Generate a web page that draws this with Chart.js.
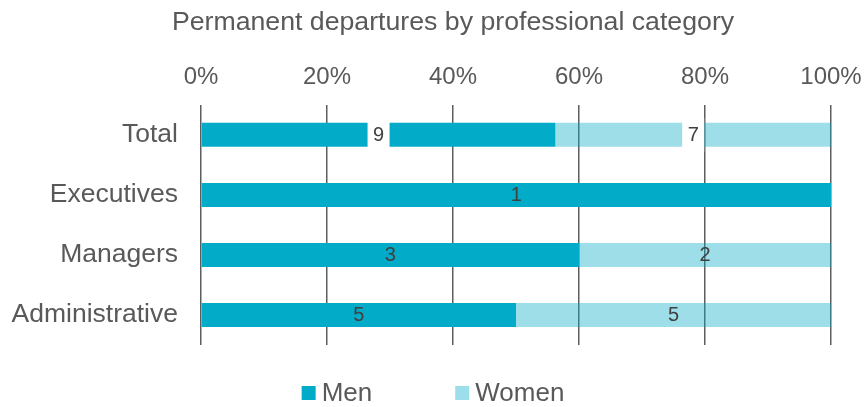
<!DOCTYPE html>
<html>
<head>
<meta charset="utf-8">
<script src="https://cdn.jsdelivr.net/npm/chart.js@4"></script>
<style>
  html, body { margin: 0; padding: 0; background: #ffffff; }
  #wrap { width: 866px; height: 407px; position: relative; }
</style>
</head>
<body>
<div id="wrap"><canvas id="departuresChart"></canvas></div>
<script>
const categories = ["Total", "Executives", "Managers", "Administrative"];
const men = [9, 1, 3, 5];
const women = [7, 0, 2, 5];
const tickLabels = ["0%", "20%", "40%", "60%", "80%", "100%"];

const textColor = "#595959";
const fontFamily = "'Liberation Sans', Arial, sans-serif";

// share of each row, so both segments add up to 100
const share = (part, i) => 100 * part[i] / (men[i] + women[i]);
const menShare = men.map((v, i) => share(men, i));
const womenShare = women.map((v, i) => share(women, i));

// count labels in the middle of each segment; the Total row gets a white box
const segmentLabels = {
    id: "segmentLabels",
    afterDatasetsDraw(chart) {
        const ctx = chart.ctx;
        ctx.save();
        ctx.font = "20px " + fontFamily;
        ctx.textAlign = "center";
        ctx.textBaseline = "middle";
        chart.data.datasets.forEach((ds, di) => {
            const meta = chart.getDatasetMeta(di);
            meta.data.forEach((bar, i) => {
                const count = ds.counts[i];
                if (!count) return;
                const x = (bar.x + bar.base) / 2;
                const y = bar.y;
                if (i === 0) {
                    ctx.fillStyle = "#ffffff";
                    ctx.fillRect(x - 11, y - 17, 22, 34);
                }
                ctx.fillStyle = "#404040";
                ctx.fillText(String(count), x, y + 1);
            });
        });
        ctx.restore();
    }
};

// square markers with the series names, centred under the plot
const bottomLegend = {
    id: "bottomLegend",
    afterDraw(chart) {
        const ctx = chart.ctx;
        const box = 14, gapText = 6, gapItem = 83;
        ctx.save();
        ctx.font = "26px " + fontFamily;
        ctx.textBaseline = "middle";
        const items = chart.data.datasets.map(ds => ({
            text: ds.label,
            color: ds.legendColor,
            w: box + gapText + ctx.measureText(ds.label).width
        }));
        const total = items.reduce((s, it) => s + it.w, 0) + gapItem * (items.length - 1);
        let x = chart.width / 2 - total / 2;
        const y = 393;
        items.forEach(it => {
            ctx.fillStyle = it.color;
            ctx.fillRect(x, y - box / 2, box, box);
            ctx.fillStyle = textColor;
            ctx.fillText(it.text, x + box + gapText, y + 1);
            x += it.w + gapItem;
        });
        ctx.restore();
    }
};

// the heading sits a little right of the canvas centre
const titleShift = {
    id: "titleShift",
    afterLayout(chart) {
        chart.titleBlock.left += 75;
    }
};

Chart.defaults.font.family = fontFamily;
Chart.defaults.color = textColor;

new Chart(document.getElementById("departuresChart"), {
    type: "bar",
    data: {
        labels: categories,
        datasets: [
            {
                label: "Men",
                data: menShare,
                counts: men,
                backgroundColor: "#02abc7",
                legendColor: "#02abc7",
                categoryPercentage: 0.8,
                barPercentage: 0.5
            },
            {
                label: "Women",
                data: womenShare,
                counts: women,
                backgroundColor: "rgba(2, 171, 199, 0.39)",
                legendColor: "#9cdee9",
                categoryPercentage: 0.8,
                barPercentage: 0.5
            }
        ]
    },
    options: {
        indexAxis: "y",
        responsive: true,
        maintainAspectRatio: false,
        animation: false,
        layout: {
            padding: { left: 0, right: 35, top: 0, bottom: 62 }
        },
        plugins: {
            legend: { display: false },
            tooltip: { enabled: false },
            title: {
                display: true,
                text: "Permanent departures by professional category",
                color: textColor,
                font: { size: 26.7, weight: "normal" },
                padding: { top: 7, bottom: 11 }
            }
        },
        scales: {
            x: {
                position: "top",
                stacked: true,
                min: 0,
                max: 100,
                border: { display: false },
                grid: {
                    color: "#5e5e5e",
                    lineWidth: 1.5,
                    drawTicks: false
                },
                ticks: {
                    stepSize: 20,
                    padding: 13,
                    color: textColor,
                    font: { size: 24 },
                    callback: (v, i) => tickLabels[i]
                },
                afterFit(scale) {
                    scale.paddingRight = 0;
                }
            },
            y: {
                stacked: true,
                border: { display: false },
                grid: { display: false, drawTicks: false },
                ticks: {
                    padding: 23,
                    color: textColor,
                    font: { size: 26.5 }
                },
                afterFit(scale) {
                    scale.width = 201;
                }
            }
        }
    },
    plugins: [segmentLabels, bottomLegend, titleShift]
});
</script>
</body>
</html>
